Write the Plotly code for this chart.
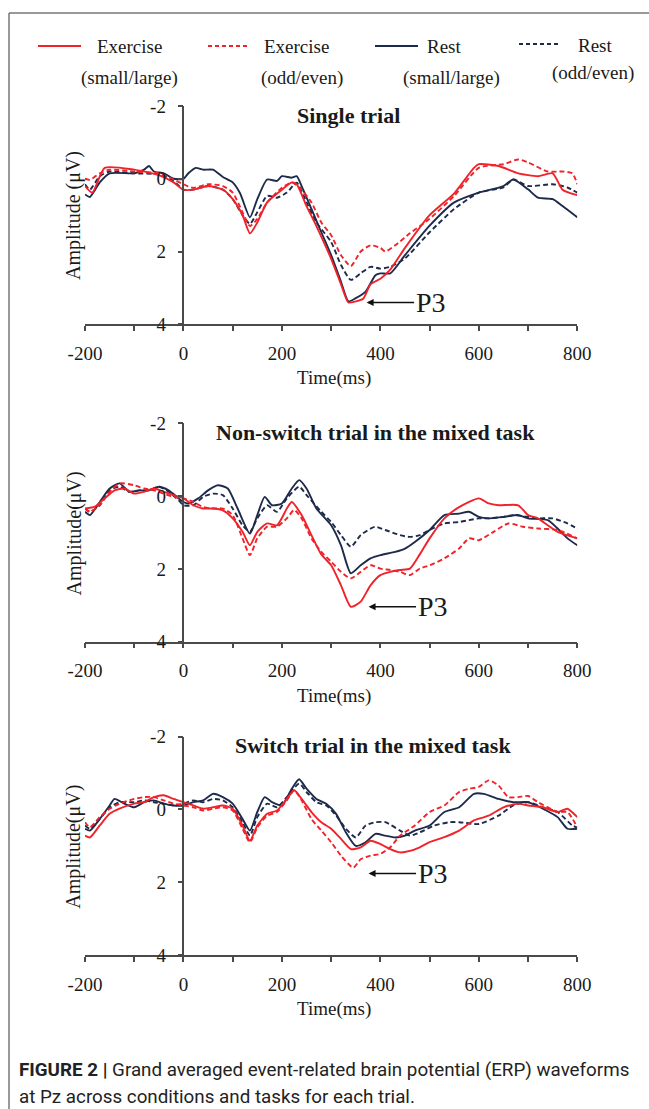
import plotly.graph_objects as go

W, H = 649, 1109

# ---------------- data (time ms, amplitude µV) ----------------
# Panel 1: Single trial
ex_sl_1 = [(-200,0.2),(-185,0.38),(-160,-0.3),(-100,-0.25),(-50,-0.1),(-20,0.1),(0,0.3),(20,0.3),(50,0.2),(80,0.3),
           (100,0.56),(120,1.0),(135,1.5),(150,1.2),(170,0.65),(200,0.3),(220,0.1),(230,0.15),(250,0.75),(270,1.3),
           (300,2.2),(320,2.9),(335,3.4),(350,3.37),(365,3.3),(380,2.9),(400,2.75),(420,2.5),(450,1.9),(500,1.0),
           (550,0.4),(590,-0.3),(600,-0.4),(640,-0.35),(680,-0.15),(720,-0.07),(750,-0.15),(770,0.3),(800,0.45)]
ex_oe_1 = [(-200,0.0),(-190,0.03),(-170,-0.15),(-150,-0.25),(-100,-0.2),(-50,-0.15),(-20,0.02),(0,0.15),(20,0.25),(50,0.15),
           (80,0.2),(100,0.38),(120,0.92),(135,1.3),(150,1.1),(170,0.65),(200,0.25),(220,0.1),(240,0.3),(260,0.65),
           (280,1.2),(300,1.55),(320,2.1),(340,2.4),(360,2.0),(380,1.83),(400,1.9),(410,2.0),(430,1.83),(460,1.5),
           (500,1.1),(550,0.47),(600,-0.3),(650,-0.4),(680,-0.53),(700,-0.45),(740,-0.2),(770,-0.2),(790,-0.15),(800,0.15)]
rs_sl_1 = [(-200,0.43),(-190,0.5),(-170,0.1),(-150,-0.15),(-100,-0.15),(-80,-0.25),(-70,-0.35),(-60,-0.2),(-40,-0.15),(-20,0.0),
           (0,0.0),(10,-0.15),(25,-0.3),(40,-0.25),(60,-0.25),(80,-0.05),(100,0.1),(115,0.4),(135,1.06),(150,0.56),
           (170,0.02),(190,0.06),(200,-0.07),(220,-0.03),(230,-0.07),(240,0.2),(260,0.83),(280,1.47),(300,2.1),(320,2.83),
           (335,3.37),(350,3.28),(370,3.1),(390,2.65),(400,2.6),(420,2.6),(450,2.1),(500,1.29),(550,0.65),(600,0.38),
           (650,0.2),(670,0.02),(700,0.29),(720,0.52),(750,0.56),(770,0.75),(800,1.06)]
rs_oe_1 = [(-200,0.15),(-190,0.3),(-170,-0.07),(-150,-0.2),(-100,-0.15),(-50,-0.12),(-20,0.06),(0,0.3),(20,0.3),(50,0.2),
           (80,0.3),(100,0.56),(120,1.0),(135,1.24),(150,0.92),(170,0.47),(190,0.52),(210,0.38),(230,0.11),(250,0.65),
           (270,1.2),(300,1.74),(320,2.37),(340,2.78),(360,2.6),(380,2.42),(400,2.47),(420,2.42),(450,2.19),(500,1.47),
           (550,0.83),(600,0.38),(650,0.24),(670,0.02),(700,0.2),(750,0.15),(780,0.24),(800,0.38)]

# Panel 2: Non-switch trial in the mixed task
ex_sl_2 = [(-200,0.34),(-180,0.29),(-160,0.06),(-140,-0.16),(-120,-0.21),(-100,-0.07),(-80,-0.12),(-60,-0.21),(-40,-0.12),(-20,-0.03),
           (0,0.06),(20,0.25),(40,0.34),(60,0.34),(80,0.39),(100,0.61),(120,0.98),(135,1.35),(150,0.98),(170,0.75),
           (190,0.8),(210,0.34),(220,0.16),(240,0.52),(260,1.07),(280,1.6),(300,1.9),(320,2.45),(340,3.04),(360,2.9),
           (380,2.45),(400,2.17),(420,2.08),(440,2.03),(460,1.99),(480,1.6),(500,1.16),(530,0.61),(560,0.3),(600,0.06),
           (620,0.2),(640,0.25),(680,0.25),(700,0.52),(720,0.61),(740,0.8),(760,0.98),(800,1.16)]
ex_oe_2 = [(-200,0.34),(-190,0.43),(-170,0.25),(-150,-0.12),(-130,-0.35),(-100,-0.3),(-80,-0.21),(-60,-0.16),(-40,-0.07),(-20,0.02),
           (0,0.06),(20,0.16),(40,0.3),(60,0.34),(80,0.34),(100,0.52),(120,1.16),(135,1.62),(150,1.16),(170,0.84),
           (190,0.84),(210,0.61),(225,0.38),(240,0.61),(260,1.16),(280,1.53),(300,1.8),(320,2.08),(340,2.26),(360,2.08),
           (380,1.9),(400,1.99),(420,2.03),(440,2.08),(460,2.17),(480,1.99),(500,1.9),(530,1.71),(560,1.44),(580,1.16),
           (600,1.21),(630,0.98),(660,0.75),(690,0.84),(720,0.89),(760,0.93),(800,1.16)]
rs_sl_2 = [(-200,0.43),(-190,0.52),(-170,0.16),(-150,-0.21),(-130,-0.35),(-110,-0.12),(-90,-0.16),(-70,-0.16),(-50,-0.26),(-30,-0.16),
           (-10,0.06),(0,0.16),(10,0.2),(30,0.06),(50,-0.16),(70,-0.3),(90,-0.21),(110,0.34),(135,1.03),(150,0.52),
           (165,0.02),(180,0.25),(200,0.2),(220,-0.21),(235,-0.44),(250,-0.21),(270,0.34),(300,0.8),(320,1.35),(340,2.12),
           (360,1.9),(380,1.71),(400,1.62),(430,1.53),(450,1.44),(470,1.26),(500,0.93),(530,0.52),(560,0.48),(580,0.43),
           (600,0.57),(620,0.61),(650,0.57),(680,0.52),(700,0.61),(740,0.66),(760,0.89),(780,1.16),(800,1.35)]
rs_oe_2 = [(-200,0.34),(-190,0.43),(-170,0.25),(-150,-0.16),(-130,-0.26),(-110,-0.12),(-90,-0.16),(-70,-0.16),(-50,-0.26),(-30,-0.12),
           (-10,0.11),(0,0.25),(20,0.25),(40,0.02),(60,-0.07),(80,-0.03),(100,0.34),(120,0.8),(135,0.98),(150,0.61),
           (170,0.25),(190,0.43),(210,0.06),(235,-0.26),(250,-0.03),(280,0.43),(300,0.71),(320,1.07),(340,1.39),(360,1.07),
           (380,0.89),(390,0.84),(410,0.93),(440,1.07),(460,1.12),(480,1.07),(500,0.93),(530,0.75),(560,0.71),(580,0.66),
           (600,0.61),(620,0.61),(650,0.57),(670,0.52),(700,0.57),(720,0.61),(750,0.61),(780,0.75),(800,0.89)]

# Panel 3: Switch trial in the mixed task
ex_sl_3 = [(-200,0.72),(-190,0.77),(-170,0.44),(-150,0.12),(-130,-0.02),(-100,-0.16),(-80,-0.2),(-60,-0.34),(-40,-0.39),(-20,-0.29),
           (0,-0.2),(20,-0.11),(40,-0.02),(60,-0.06),(80,-0.11),(100,-0.02),(120,0.44),(135,0.86),(150,0.44),(170,0.12),
           (190,0.03),(210,-0.29),(225,-0.53),(240,-0.29),(260,0.07),(280,0.35),(300,0.53),(320,0.81),(340,1.09),(360,1.04),
           (380,0.86),(400,0.95),(420,1.09),(440,1.18),(460,1.14),(480,1.04),(500,0.9),(530,0.76),(560,0.58),(590,0.3),
           (620,0.17),(650,-0.06),(680,-0.16),(700,-0.11),(730,-0.06),(760,0.07),(780,-0.02),(800,0.21)]
ex_oe_3 = [(-200,0.35),(-190,0.49),(-170,0.21),(-150,-0.02),(-130,-0.16),(-100,-0.29),(-80,-0.34),(-60,-0.34),(-40,-0.25),(-20,-0.16),
           (0,-0.11),(20,-0.06),(40,0.03),(60,-0.02),(80,-0.06),(100,0.03),(120,0.53),(135,0.9),(150,0.49),(170,0.17),
           (190,0.07),(210,-0.25),(225,-0.53),(240,-0.25),(260,0.26),(280,0.58),(300,0.9),(320,1.27),(345,1.6),(360,1.37),
           (380,1.27),(400,1.22),(420,1.04),(440,0.72),(470,0.44),(500,0.07),(530,-0.11),(560,-0.48),(580,-0.57),(600,-0.62),
           (620,-0.8),(640,-0.66),(660,-0.34),(680,-0.34),(700,-0.37),(720,-0.2),(740,-0.06),(760,0.07),(780,0.07),(800,0.49)]
rs_sl_3 = [(-200,0.53),(-190,0.58),(-170,0.26),(-150,-0.11),(-140,-0.29),(-120,-0.16),(-100,-0.06),(-80,-0.2),(-60,-0.25),(-40,-0.16),
           (-20,-0.11),(0,-0.11),(20,-0.2),(40,-0.25),(60,-0.43),(80,-0.34),(100,-0.16),(120,0.26),(135,0.58),(150,0.07),
           (165,-0.34),(180,-0.2),(200,-0.11),(220,-0.57),(235,-0.83),(250,-0.57),(270,-0.29),(290,-0.16),(310,0.12),(330,0.63),
           (350,1.0),(370,0.9),(390,0.67),(410,0.72),(430,0.77),(450,0.72),(470,0.58),(500,0.44),(530,0.07),(560,-0.06),
           (590,-0.43),(610,-0.43),(640,-0.29),(670,-0.2),(700,-0.2),(730,-0.02),(760,0.21),(780,0.53),(800,0.53)]
rs_oe_3 = [(-200,0.44),(-190,0.53),(-170,0.26),(-150,-0.06),(-130,-0.2),(-100,-0.2),(-80,-0.25),(-60,-0.2),(-40,-0.16),(-20,-0.11),
           (0,-0.16),(20,-0.25),(40,-0.2),(60,-0.29),(80,-0.25),(100,-0.06),(120,0.35),(135,0.72),(150,0.21),(170,-0.16),
           (190,-0.06),(210,-0.34),(235,-0.71),(250,-0.48),(270,-0.2),(290,-0.11),(310,0.17),(330,0.53),(350,0.77),(370,0.44),
           (390,0.35),(410,0.35),(440,0.58),(460,0.72),(480,0.63),(510,0.44),(540,0.35),(560,0.35),(600,0.4),(640,0.17),
           (670,-0.11),(700,-0.2),(730,-0.06),(760,0.07),(790,0.44),(800,0.5)]

panel_titles = ["Single trial", "Non-switch trial in the mixed task", "Switch trial in the mixed task"]
y_titles = ["Amplitude (\u03bcV)", "Amplitude(\u03bcV)", "Amplitude(\u03bcV)"]
x_title = "Time(ms)"
x_tickvals = [-200, -100, 0, 100, 200, 300, 400, 500, 600, 700, 800]
x_ticktext = ["-200", "", "0", "", "200", "", "400", "", "600", "", "800"]
y_tickvals = [-2, 0, 2, 4]
y_ticktext = ["-2", "0", "2", "4"]
p3_points = [(372, 3.40), (376, 3.04), (376, 1.76)]
legend_names = [("Exercise", "(small/large)"), ("Exercise", "(odd/even)"),
                ("Rest", "(small/large)"), ("Rest", "(odd/even)")]
caption_1 = "<b>FIGURE 2 |</b> Grand averaged event-related brain potential (ERP) waveforms"
caption_2 = "at Pz across conditions and tasks for each trial."

# ---------------- styles ----------------
RED = "#f0222a"
NAVY = "#1d2a4a"
SERIF = "Liberation Serif, Times New Roman, serif"
TXT = "#1a1a1a"
AX = "#4a4a4a"

def px_x(x):
    return x / W

def px_y(y):
    return 1 - y / H

# plot geometry (pixels)
X_LEFT, X_RIGHT = 85.0, 577.3
panel_tops = [106.0, 423.4, 736.7]
panel_bots = [324.3, 641.7, 955.0]
styles = [(RED, "solid"), (RED, "5px,3px"), (NAVY, "solid"), (NAVY, "5px,3px")]

fig = go.Figure()
panels = [
    [ex_sl_1, ex_oe_1, rs_sl_1, rs_oe_1],
    [ex_sl_2, ex_oe_2, rs_sl_2, rs_oe_2],
    [ex_sl_3, ex_oe_3, rs_sl_3, rs_oe_3],
]
draw_order = [3, 2, 1, 0]
for i, series in enumerate(panels):
    sfx = "" if i == 0 else str(i + 1)
    for k in draw_order:
        pts = series[k]
        col, dash = styles[k]
        fig.add_trace(go.Scatter(
            x=[p[0] for p in pts], y=[p[1] for p in pts], mode="lines",
            line=dict(color=col, width=1.9, dash=dash, shape="spline", smoothing=0.6),
            xaxis="x" + sfx, yaxis="y" + sfx, showlegend=False, hoverinfo="skip"))

layout = dict(
    width=W, height=H, margin=dict(l=0, r=0, t=0, b=0, autoexpand=False),
    paper_bgcolor="white", plot_bgcolor="white", showlegend=False,
    font=dict(family=SERIF, color=TXT),
)
annotations = []
shapes = []
x_pos0 = X_LEFT + (0 - (-200)) / 1000 * (X_RIGHT - X_LEFT)
for i in range(3):
    sfx = "" if i == 0 else str(i + 1)
    layout["xaxis" + sfx] = dict(
        domain=[px_x(X_LEFT), px_x(X_RIGHT)], range=[-200, 800], anchor="y" + sfx,
        showgrid=False, zeroline=False, showline=True, linecolor=AX, linewidth=1.5,
        ticks="outside", ticklen=5, tickwidth=1.5, tickcolor=AX,
        tickmode="array", tickvals=x_tickvals, ticktext=x_ticktext,
        tickfont=dict(family=SERIF, size=19, color=TXT), ticklabelstandoff=6,
    )
    layout["yaxis" + sfx] = dict(
        domain=[px_y(panel_bots[i]), px_y(panel_tops[i])], range=[4, -2],
        anchor="free", position=px_x(x_pos0),
        showgrid=False, zeroline=False, showline=True, linecolor=AX, linewidth=1.5,
        ticks="outside", ticklen=5, tickwidth=1.5, tickcolor=AX,
        tickmode="array", tickvals=y_tickvals, ticktext=y_ticktext,
        tickfont=dict(family=SERIF, size=19, color=TXT), ticklabelstandoff=8,
    )
    # panel title
    title_x = [348, 375, 373][i]
    annotations.append(dict(text="<b>" + panel_titles[i] + "</b>", xref="paper", yref="paper",
                            x=px_x(title_x), y=px_y(panel_tops[i] + 9), showarrow=False,
                            font=dict(family=SERIF, size=22, color=TXT), xanchor="center", yanchor="middle"))
    # y title
    annotations.append(dict(text=y_titles[i], xref="paper", yref="paper", textangle=-90,
                            x=px_x(74), y=px_y(panel_tops[i] + 110), showarrow=False,
                            font=dict(family=SERIF, size=20, color=TXT), xanchor="center", yanchor="middle"))
    # x title
    annotations.append(dict(text=x_title, xref="paper", yref="paper",
                            x=px_x(334), y=px_y(panel_bots[i] + 54), showarrow=False,
                            font=dict(family=SERIF, size=19, color=TXT), xanchor="center", yanchor="middle"))
    # P3 annotation
    px3, py3 = p3_points[i]
    annotations.append(dict(text="P3", x=px3, y=py3, xref="x" + sfx, yref="y" + sfx,
                            ax=px3 + 130, ay=py3, axref="x" + sfx, ayref="y" + sfx,
                            showarrow=True, arrowhead=2, arrowsize=1, arrowwidth=1.4, arrowcolor="#111",
                            font=dict(family=SERIF, size=28, color=TXT), xanchor="center", yanchor="middle"))

# legend (manual)
leg_lines = [(38, 81), (208, 248), (375, 418), (519, 559)]
leg_text_x1 = [129, 296, 444, 595]
leg_text_x2 = [129, 302, 451, 593]
leg_y1 = [47, 47, 47, 45]
leg_y2 = [78, 78, 78, 73]
for k in range(4):
    col, dash = styles[k]
    dash_plotly = "solid" if dash == "solid" else "4px,3px"
    shapes.append(dict(type="line", xref="paper", yref="paper",
                       x0=px_x(leg_lines[k][0]), x1=px_x(leg_lines[k][1]),
                       y0=px_y(leg_y1[k] - 1), y1=px_y(leg_y1[k] - 1),
                       line=dict(color=col, width=2.2, dash=dash_plotly)))
    annotations.append(dict(text=legend_names[k][0], xref="paper", yref="paper",
                            x=px_x(leg_text_x1[k]), y=px_y(leg_y1[k]), showarrow=False,
                            font=dict(family=SERIF, size=19, color=TXT), xanchor="center", yanchor="middle"))
    annotations.append(dict(text=legend_names[k][1], xref="paper", yref="paper",
                            x=px_x(leg_text_x2[k]), y=px_y(leg_y2[k]), showarrow=False,
                            font=dict(family=SERIF, size=19, color=TXT), xanchor="center", yanchor="middle"))

# frame
shapes.append(dict(type="line", xref="paper", yref="paper", x0=px_x(9), x1=1.0, y0=px_y(13), y1=px_y(13),
                   line=dict(color="#777", width=1.5)))
shapes.append(dict(type="line", xref="paper", yref="paper", x0=px_x(9), x1=px_x(9), y0=px_y(13), y1=0.0,
                   line=dict(color="#777", width=1.5)))

# caption
CAP_FONT = "Roboto, Arial, sans-serif"
annotations.append(dict(text=caption_1, xref="paper", yref="paper", x=px_x(17), y=px_y(1070),
                        showarrow=False, xanchor="left", yanchor="middle",
                        font=dict(family=CAP_FONT, size=18.8, color="#222")))
annotations.append(dict(text=caption_2, xref="paper", yref="paper", x=px_x(17), y=px_y(1097),
                        showarrow=False, xanchor="left", yanchor="middle",
                        font=dict(family=CAP_FONT, size=18.8, color="#222")))

layout["annotations"] = annotations
layout["shapes"] = shapes
fig.update_layout(**layout)
fig.write_html("out.html")
